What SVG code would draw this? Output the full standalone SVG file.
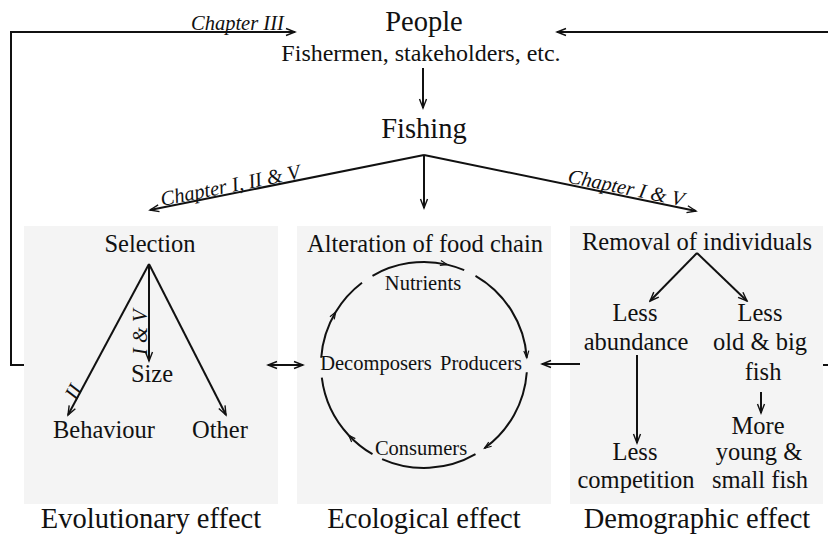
<svg xmlns="http://www.w3.org/2000/svg" width="828" height="534" viewBox="0 0 828 534">
<style>
.ln{fill:none;stroke:#111;stroke-width:2}
.arc{fill:none;stroke:#111;stroke-width:2}
.panel{fill:#f4f4f4}
</style>
<defs>
<marker id="ah" markerUnits="userSpaceOnUse" markerWidth="12" markerHeight="10" refX="10" refY="5" orient="auto-start-reverse">
<path d="M1,1.5 L10,5 L1,8.5" fill="none" stroke="#111" stroke-width="1.4"/>
</marker>
<marker id="ahs" markerUnits="userSpaceOnUse" markerWidth="10" markerHeight="8" refX="8" refY="4" orient="auto">
<path d="M1,1.5 L8,4 L1,6.5" fill="none" stroke="#111" stroke-width="1.2"/>
</marker>
</defs>

<g id="panels">
<rect class="panel" x="24" y="226" width="254" height="278"/>
<rect class="panel" x="297" y="226" width="254" height="278"/>
<rect class="panel" x="570" y="226" width="253" height="278"/>
</g>

<g id="people" fill="#111" text-anchor="middle">
<text font-family="Times New Roman" font-size="28.5" x="424" y="31">People</text>
<text font-family="Tinos" font-size="24" x="421" y="61">Fishermen, stakeholders, etc.</text>
</g>
<g id="fishing" fill="#111" text-anchor="middle">
<text font-family="serif" font-size="28.5" x="424" y="138">Fishing</text>
</g>

<g id="evolutionary" fill="#111" text-anchor="middle">
<text font-family="Times New Roman" font-size="24.5" x="150" y="252">Selection</text>
<text font-family="Times New Roman" font-size="24.5" x="152" y="382">Size</text>
<text font-family="Times New Roman" font-size="24.5" x="104" y="438">Behaviour</text>
<text font-family="Times New Roman" font-size="24.5" x="220" y="438">Other</text>
<text font-family="Times New Roman" font-size="28.5" x="151" y="528">Evolutionary effect</text>
</g>

<g id="ecological" fill="#111" text-anchor="middle">
<text font-family="Tinos" font-size="24.5" x="425" y="252">Alteration of food chain</text>
<text font-family="Liberation Serif" font-size="20.5" x="423" y="290">Nutrients</text>
<text font-family="Liberation Serif" font-size="20.5" x="376" y="370">Decomposers</text>
<text font-family="Liberation Serif" font-size="20.5" x="481" y="370">Producers</text>
<text font-family="Liberation Serif" font-size="20.5" x="421" y="455">Consumers</text>
<text font-family="Tinos" font-size="28.5" x="424" y="528">Ecological effect</text>
</g>

<g id="demographic" fill="#111" text-anchor="middle">
<text font-family="serif" font-size="24.5" x="697" y="250">Removal of individuals</text>
<text font-family="serif" font-size="24.5" x="635" y="321">Less</text>
<text font-family="serif" font-size="24.5" x="636" y="350">abundance</text>
<text font-family="serif" font-size="24.5" x="760" y="321">Less</text>
<text font-family="serif" font-size="24.5" x="760" y="350">old &amp; big</text>
<text font-family="serif" font-size="24.5" x="763" y="380">fish</text>
<text font-family="serif" font-size="24.5" x="758" y="434">More</text>
<text font-family="serif" font-size="24.5" x="759" y="460">young &amp;</text>
<text font-family="serif" font-size="24.5" x="760" y="488">small fish</text>
<text font-family="serif" font-size="24.5" x="635" y="460">Less</text>
<text font-family="serif" font-size="24.5" x="636" y="488">competition</text>
<text font-family="serif" font-size="28.5" x="697" y="528">Demographic effect</text>
</g>

<g id="connectors">
<path class="ln" d="M24,365 H11 V32 H295" marker-end="url(#ah)"/>
<path class="ln" d="M823,365 H830 V32 H557" marker-end="url(#ah)"/>
<path class="ln" d="M423,68 V108" marker-end="url(#ah)"/>
<path class="ln" d="M424,155 L150,210" marker-end="url(#ah)"/>
<path class="ln" d="M424,155 L696,211" marker-end="url(#ah)"/>
<path class="ln" d="M424,155 V208" marker-end="url(#ah)"/>
<path class="ln" d="M149,264 L68,415" marker-end="url(#ah)"/>
<path class="ln" d="M149,264 V361" marker-end="url(#ah)"/>
<path class="ln" d="M149,264 L226,415" marker-end="url(#ah)"/>
<path class="ln" d="M268,365 H303" marker-start="url(#ah)" marker-end="url(#ah)"/>
<path class="ln" d="M580,364 H542" marker-end="url(#ah)"/>
<path class="ln" d="M697,253 L650,301" marker-end="url(#ah)"/>
<path class="ln" d="M697,253 L747,301" marker-end="url(#ah)"/>
<path class="ln" d="M637,355 V443" marker-end="url(#ah)"/>
<path class="ln" d="M761,392 V413" marker-end="url(#ah)"/>
<path class="arc" d="M372.5,275.8 A103,103 0 0 1 447.2,264.6" marker-end="url(#ahs)"/>
<path class="arc" d="M447.2,264.6 A103,103 0 0 1 464.2,270.2"/>
<path class="arc" d="M475.5,275.8 A103,103 0 0 1 526.8,357.8" marker-end="url(#ahs)"/>
<path class="arc" d="M526.8,372.2 A103,103 0 0 1 484.5,448.3" marker-end="url(#ahs)"/>
<path class="arc" d="M475.5,454.2 A103,103 0 0 1 382.1,459.1"/>
<path class="arc" d="M372.5,454.2 A103,103 0 0 1 348.7,435.2" marker-end="url(#ahs)"/>
<path class="arc" d="M348.7,435.2 A103,103 0 0 1 321.8,377.6"/>
<path class="arc" d="M321.2,357.8 A103,103 0 0 1 335.7,312.0" marker-end="url(#ahs)"/>
<path class="arc" d="M335.7,312.0 A103,103 0 0 1 362.0,282.7"/>
<g fill="#111" font-family="Liberation Serif" font-size="20.5" font-style="italic">
<text x="191" y="30">Chapter III</text>
<text transform="translate(162,206) rotate(-11.35)">Chapter I, II &amp; V</text>
<text transform="translate(567,182.5) rotate(11.6)">Chapter I &amp; V</text>
<text transform="translate(147,355) rotate(-90)">I &amp; V</text>
<text transform="translate(76,401) rotate(-61.8)">II</text>
</g>
</g>
</svg>
